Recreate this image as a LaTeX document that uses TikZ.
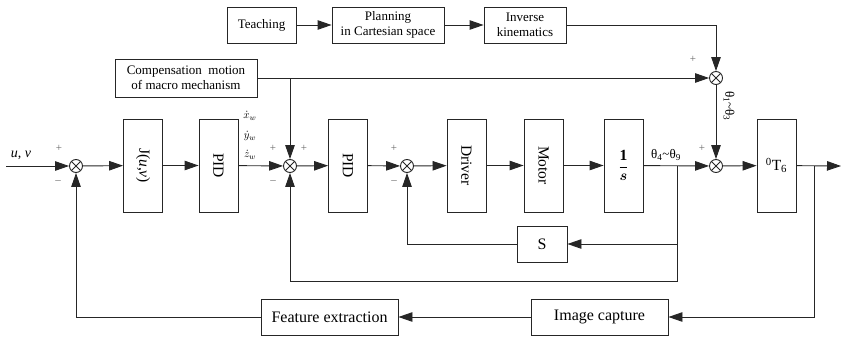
\documentclass[tikz,border=0pt]{standalone}
\usepackage{amsmath,bm,graphicx}
\usepackage{fontspec}
\setmainfont{Liberation Serif}
\usetikzlibrary{arrows.meta,calc}
\tikzset{
  x=1pt, y=1pt,
  line/.style={line width=0.9pt, draw=black!85},
  arr/.style={line, -{Triangle[length=14pt,width=9.5pt]}},
  blk/.style={draw=black!85, line width=0.9pt, inner sep=0pt, align=center},
  vbox/.style={blk, minimum width=39pt, minimum height=93pt, font=\fontsize{15.5}{18}\selectfont},
  tbox/.style={blk, minimum height=36pt, font=\fontsize{13}{14.5}\selectfont},
  bbox/.style={blk, minimum height=36pt, font=\fontsize{16}{18}\selectfont},
  sumj/.style={circle, draw=black!85, line width=0.9pt, minimum size=13pt, inner sep=0pt,
    path picture={\draw[line width=0.8pt] (path picture bounding box.north west) -- (path picture bounding box.south east)
      (path picture bounding box.north east) -- (path picture bounding box.south west);}},
  sgn/.style={font=\fontsize{11}{12}\selectfont, text=black!60, inner sep=0pt},
  lab/.style={font=\fontsize{13}{14}\selectfont, inner sep=0pt},
  dlab/.style={font=\fontsize{11}{12}\selectfont, inner sep=0pt}
}
\begin{document}
\begin{tikzpicture}
\useasboundingbox (0,0) rectangle (842,-337);
% top chain
\node[tbox, minimum width=69pt] (teach) at (261.5,-25) {Teaching};
\node[tbox, minimum width=112pt] (plan) at (388,-25) {Planning\\in Cartesian space};
\node[tbox, minimum width=82pt] (inv) at (525,-25) {Inverse\\kinematics};
\node[tbox, minimum width=142pt, minimum height=38pt] (comp) at (186,-78) {Compensation\ \ motion\\of macro mechanism};
% sums
\node[sumj] (s1) at (76,-166) {};
\node[sumj] (s2) at (290,-166) {};
\node[sumj] (s3) at (407,-166) {};
\node[sumj] (s4) at (716,-78) {};
\node[sumj] (s5) at (716,-166) {};
% main boxes
\node[vbox] (J) at (143,-165.5) {\rotatebox{-90}{J(\textit{u},\textit{v})}};
\node[vbox] (pid1) at (218.5,-165.5) {\rotatebox{-90}{PID}};
\node[vbox] (pid2) at (348,-165.5) {\rotatebox{-90}{PID}};
\node[vbox] (drv) at (466.5,-165.5) {\rotatebox{-90}{Driver}};
\node[vbox] (mot) at (543.5,-165.5) {\rotatebox{-90}{Motor}};
\node[vbox] (int) at (623.5,-165.5) {$\dfrac{\mathbf{1}}{\bm{s}}$};
\node[vbox] (T) at (776.5,-165.5) {\textsuperscript{0}T\textsubscript{6}};
\node[bbox, minimum width=50pt] (S) at (542,-244) {S};
\node[bbox, minimum width=137pt] (img) at (599.5,-317) {Image capture};
\node[bbox, minimum width=137pt] (feat) at (329.5,-317) {Feature extraction};
% coordinates
\coordinate (in) at (6,-166);
\coordinate (out) at (841,-166);
\coordinate (b1) at (677,-166);
\coordinate (b1d) at (677,-281);
\coordinate (b2) at (677,-244);
\coordinate (b3) at (814,-166);
\coordinate (b4) at (290,-78);
% main path
\draw[arr] (in) -- (s1);
\draw[arr] (s1) -- (J);
\draw[arr] (J) -- (pid1);
\draw[arr] (pid1) -- (s2);
\draw[arr] (s2) -- (pid2);
\draw[arr] (pid2) -- (s3);
\draw[arr] (s3) -- (drv);
\draw[arr] (drv) -- (mot);
\draw[arr] (mot) -- (int);
\draw[arr] (int) -- (s5);
\draw[arr] (s5) -- (T);
\draw[arr] (T) -- (out);
% feedbacks
\draw[arr] (b3) |- (img);
\draw[arr] (img) -- (feat);
\draw[arr] (feat) -| (s1);
\draw[arr] (b1) -- (b1d) -| (s2);
\draw[arr] (b2) -- (S);
\draw[arr] (S) -| (s3);
% top
\draw[arr] (teach) -- (plan);
\draw[arr] (plan) -- (inv);
\draw[arr] (inv) -| (s4);
\draw[arr] (comp) -- (s4);
\draw[arr] (b4) -- (s2);
\draw[arr] (s4) -- (s5);
% labels
\node[sgn] (p1) at (59,-148) {+};
\node[sgn] (m1) at (58,-182) {\textendash};
\node[sgn] (p2) at (273,-148) {+};
\node[sgn] (m2) at (273,-182) {\textendash};
\node[sgn] (p2b) at (304,-148) {+};
\node[sgn] (p3) at (394,-148) {+};
\node[sgn] (m3) at (394,-182) {\textendash};
\node[sgn] (p4) at (693,-59) {+};
\node[sgn] (p5) at (702,-148) {+};
\node[lab, font=\fontsize{14}{15}\selectfont] (uv) at (21,-155) {\textit{u}, \textit{v}};
\node[dlab] (xw) at (250,-116) {$\dot{x}_w$};
\node[dlab] (yw) at (250,-136) {$\dot{y}_w$};
\node[dlab] (zw) at (250,-155) {$\dot{z}_w$};
\node[lab] (th49) at (666,-155) {θ\textsubscript{4}\textasciitilde θ\textsubscript{9}};
\node[lab, rotate=-90] (th13) at (729,-106) {θ\textsubscript{1}\textasciitilde θ\textsubscript{3}};
\end{tikzpicture}
\end{document}
